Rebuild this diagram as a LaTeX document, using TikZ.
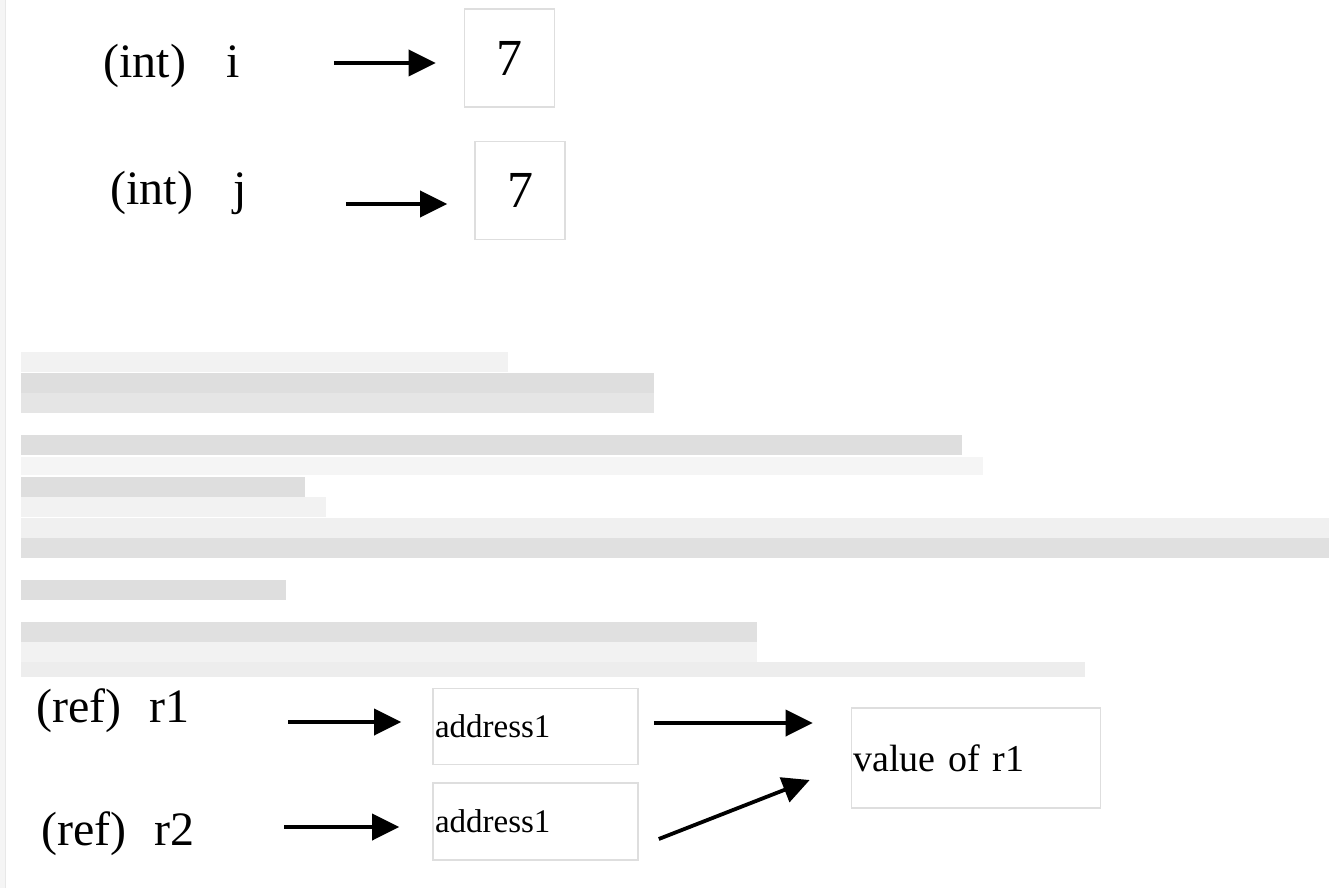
\documentclass[tikz,border=0pt]{standalone}
\usepackage{fontspec}
\setmainfont{Liberation Serif}
\usetikzlibrary{arrows.meta}
\newcommand{\varsize}{\fontsize{24pt}{28pt}\selectfont}
\newcommand{\valsize}{\fontsize{26pt}{30pt}\selectfont}
\newcommand{\addrsize}{\fontsize{16.5pt}{20pt}\selectfont}
\newcommand{\refvalsize}{\fontsize{19pt}{22pt}\selectfont}

\begin{document}
\begin{tikzpicture}[x=0.5pt,y=-0.5pt]
                        \tikzstyle{var}=[inner sep=0pt, anchor=west, font=\varsize]
                        \tikzstyle{cell}=[draw=black!13, line width=0.8pt, inner sep=0pt]
                        \tikzstyle{intcell}=[cell, minimum width=45pt, minimum height=49pt, font=\valsize]
                        \tikzstyle{addrcell}=[cell, text width=100.5pt, inner xsep=1pt, align=left, minimum height=38pt, font=\addrsize]
                        \tikzstyle{valcell}=[cell, text width=122.5pt, inner xsep=1pt, align=left, minimum height=50pt, font=\refvalsize]
                        \tikzstyle{pointer}=[line width=1.9pt, -{Triangle[length=13.5pt,width=13pt]}]
                        \useasboundingbox (0,0) rectangle (1329,888);
                        % page edge
                        \fill[black!4] (0,0) rectangle (5,888);
                        \draw[black!9] (5.5,0) -- (5.5,888);
                        % int values
                        \node[var] (vi) at (103,66) {(int)\hspace{20pt}i};
                        \node[intcell] (bi) at (509.5,58) {\raisebox{-1.5pt}{7}};
                        \node[var] (vj) at (110,193) {(int)\hspace{20pt}j};
                        \node[intcell] (bj) at (520,190.5) {\raisebox{-1.5pt}{7}};
                        \draw[pointer] ([shift={(94,-3)}]vi.east) -- ([shift={(-28,5)}]bi.west);
                        \draw[pointer] ([shift={(99,11)}]vj.east) -- ([shift={(-27,13.5)}]bj.west);
                        % blurred text
                        \foreach \ya/\yb/\xb/\tone in {352/372/508/5, 373/393/654/13, 393/413/654/10,
                            435/455/962/13, 457/475/983/4, 477/497/305/13, 497/517/326/5,
                            518/538/1329/6, 538/558/1329/12, 580/600/286/13,
                            622/642/757/12, 642/662/757/5, 662/677/1085/7}
                            \fill[black!\tone] (21,\ya) rectangle (\xb,\yb);
                        % references
                        \node[var] (vr1) at (36,711) {(ref)\hspace{14pt}r1};
                        \node[addrcell] (a1) at (535.5,726.5) {address1};
                        \node[var] (vr2) at (41,834) {(ref)\hspace{14pt}r2};
                        \node[addrcell, minimum height=38.5pt] (a2) at (535.5,821.5) {address1};
                        \node[valcell] (v1) at (976,758) {value of r1};
                        \draw[pointer] ([shift={(98,11)}]vr1.east) -- ([shift={(-31,-4.5)}]a1.west);
                        \draw[pointer] ([shift={(89,-7)}]vr2.east) -- ([shift={(-33,5.5)}]a2.west);
                        \draw[pointer] ([shift={(15,-3.5)}]a1.east) -- ([shift={(-38,-35)}]v1.west);
                        \draw[pointer] ([shift={(20,17.5)}]a2.east) -- ([shift={(-41,22)}]v1.west);
                    \end{tikzpicture}
\end{document}
